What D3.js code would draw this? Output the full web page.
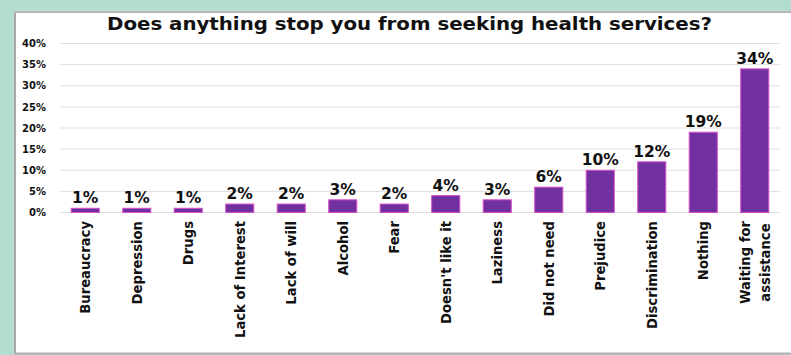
<!DOCTYPE html>
<html><head><meta charset="utf-8">
<script src="https://cdn.jsdelivr.net/npm/d3@7"></script>
<style>
html,body{margin:0;padding:0;background:#b3ddd1;}
svg{display:block;}
</style></head>
<body>
<svg id="chart" width="791" height="355"></svg>
<script>
const categories = ["Bureaucracy","Depression","Drugs","Lack of Interest","Lack of will","Alcohol","Fear","Doesn't like it","Laziness","Did not need","Prejudice","Discrimination","Nothing","Waiting for|assistance"];
const values = [1,1,1,2,2,3,2,4,3,6,10,12,19,34];
const yTicks = [0,5,10,15,20,25,30,35,40];
const title = "Does anything stop you from seeking health services?";

const FONT = "DejaVu Sans, Verdana, sans-serif";
const svg = d3.select("#chart");
// white panel
svg.append("rect").attr("x",14).attr("y",11).attr("width",800).attr("height",343).attr("fill","#ffffff");
svg.append("line").attr("x1",15).attr("x2",15).attr("y1",11).attr("y2",354).attr("stroke","#a8a8a8").attr("stroke-width",2);
svg.append("line").attr("x1",14).attr("x2",791).attr("y1",12).attr("y2",12).attr("stroke","#b8b8b8").attr("stroke-width",2);
svg.append("line").attr("x1",14).attr("x2",791).attr("y1",353.5).attr("y2",353.5).attr("stroke","#b0b0b0").attr("stroke-width",2);

const x = d3.scaleBand().domain(categories).range([59.5,780.5]).paddingInner(0.455).paddingOuter(0.2275);
const y = d3.scaleLinear().domain([0,40]).range([212.5,43.5]);

svg.append("text").attr("x",409.5).attr("y",29.5).attr("text-anchor","middle")
  .attr("font-family",FONT).attr("font-weight","bold").attr("font-size","17px").attr("fill","#111")
  .attr("textLength",605).attr("lengthAdjust","spacingAndGlyphs")
  .text(title);

// gridlines
svg.append("g").selectAll("line").data(yTicks).join("line")
  .attr("x1",60).attr("x2",780).attr("y1",d=>y(d)).attr("y2",d=>y(d))
  .attr("stroke","#dedede").attr("stroke-width",1);

const yAxis = d3.axisLeft(y).tickValues(yTicks).tickFormat(d=>d+"%").tickSize(0).tickPadding(0);
const ga = svg.append("g").attr("transform","translate(46,0)").call(yAxis);
ga.select(".domain").remove();
ga.selectAll("text").attr("font-family",FONT).attr("font-weight","bold").attr("font-size","10px").attr("fill","#111");

// bars
svg.append("g").selectAll("rect").data(values).join("rect")
  .attr("x",(d,i)=>x(categories[i]))
  .attr("width",x.bandwidth())
  .attr("y",d=>y(d))
  .attr("height",d=>y(0)-y(d))
  .attr("fill","#7030a0").attr("stroke","#d94fc8").attr("stroke-width",1);

// value labels
svg.append("g").selectAll("text").data(values).join("text")
  .attr("x",(d,i)=>x(categories[i])+x.bandwidth()/2)
  .attr("y",d=>y(d)-5)
  .attr("text-anchor","middle")
  .attr("font-family",FONT).attr("font-weight","bold").attr("font-size","15.5px").attr("fill","#111")
  .text(d=>d+"%");

// category labels
const xAxis = d3.axisBottom(x).tickSize(0).tickFormat("");
const gx = svg.append("g").attr("transform",`translate(0,${y(0)})`).call(xAxis);
gx.select(".domain").remove();
const lbl = svg.append("g").selectAll("text").data(categories).join("text")
  .attr("transform",c=>`translate(${x(c)+x.bandwidth()/2},221) rotate(-90)`)
  .attr("text-anchor","middle")
  .attr("font-family",FONT).attr("font-weight","bold").attr("font-size","13.2px").attr("fill","#111");
lbl.each(function(c){
  const parts = c.split("|");
  const t = d3.select(this);
  const spans = parts.map((p,j)=>t.append("tspan").attr("x",0)
    .attr("y", (j - (parts.length-1)/2)*20)
    .attr("dy","0.36em").text(p));
  const maxW = d3.max(spans, s=>s.node().getComputedTextLength());
  spans.forEach(s=>s.attr("x",-maxW/2));
});
</script>
</body></html>
